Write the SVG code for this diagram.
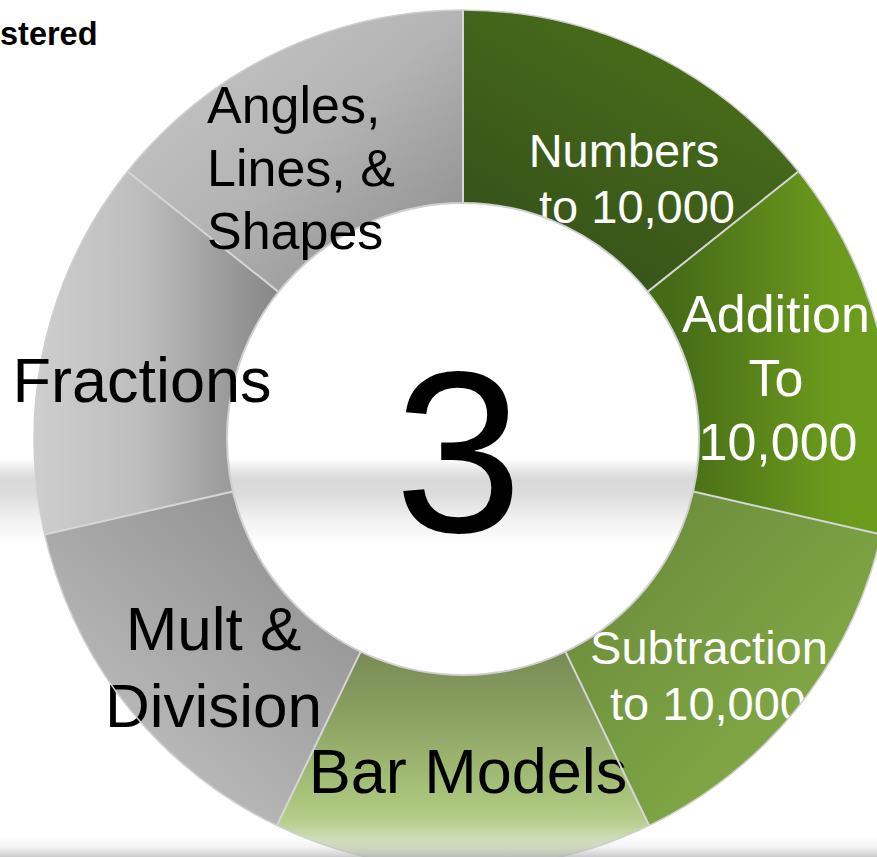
<svg xmlns="http://www.w3.org/2000/svg" width="877" height="857" viewBox="0 0 877 857">
<defs>
<style>
text{font-family:"Liberation Sans",Arial,sans-serif;}
.w{fill:#ffffff;text-anchor:middle;}
.b{fill:#000000;text-anchor:middle;}
.div{stroke:#d6d6d6;stroke-width:2;fill:none;}
</style>
<linearGradient id="band" x1="0" y1="440" x2="0" y2="560" gradientUnits="userSpaceOnUse">
<stop offset="0" stop-color="#ffffff"/>
<stop offset="0.15" stop-color="#ffffff"/>
<stop offset="0.32" stop-color="#d9d9d9"/>
<stop offset="0.45" stop-color="#dcdcdc"/>
<stop offset="0.65" stop-color="#f0f0f0"/>
<stop offset="0.88" stop-color="#ffffff"/>
</linearGradient>
<linearGradient id="bottom" x1="0" y1="836" x2="0" y2="857" gradientUnits="userSpaceOnUse">
<stop offset="0" stop-color="#b0b0b0" stop-opacity="0"/>
<stop offset="0.5" stop-color="#b8b8b8" stop-opacity="0.15"/>
<stop offset="1" stop-color="#a8a8a8" stop-opacity="0.6"/>
</linearGradient>
<linearGradient id="g1" x1="1" y1="0" x2="0.3" y2="1">
<stop offset="0" stop-color="#4e7519"/>
<stop offset="1" stop-color="#35511a"/>
</linearGradient>
<linearGradient id="g2" x1="0" y1="0" x2="1" y2="0">
<stop offset="0.1" stop-color="#456b17"/>
<stop offset="0.75" stop-color="#6a9a1c"/>
<stop offset="1" stop-color="#6c9e1c"/>
</linearGradient>
<linearGradient id="g3" x1="0" y1="0" x2="1" y2="1">
<stop offset="0" stop-color="#67863a"/>
<stop offset="1" stop-color="#8ab448"/>
</linearGradient>
<linearGradient id="g4" x1="0" y1="650" x2="0" y2="857" gradientUnits="userSpaceOnUse">
<stop offset="0" stop-color="#778a55"/>
<stop offset="0.35" stop-color="#8da463"/>
<stop offset="0.72" stop-color="#a9c57b"/>
<stop offset="0.82" stop-color="#b4cd8b"/>
<stop offset="0.92" stop-color="#d1dfba"/>
<stop offset="1" stop-color="#d6e0c6"/>
</linearGradient>
<linearGradient id="g5" x1="1" y1="0" x2="0.2" y2="1">
<stop offset="0" stop-color="#888888"/>
<stop offset="1" stop-color="#c4c4c4"/>
</linearGradient>
<linearGradient id="g6" x1="0" y1="0" x2="1" y2="0">
<stop offset="0" stop-color="#cecece"/>
<stop offset="0.45" stop-color="#bdbdbd"/>
<stop offset="1" stop-color="#868686"/>
</linearGradient>
<linearGradient id="g7" x1="0" y1="0" x2="1" y2="1">
<stop offset="0" stop-color="#cacaca"/>
<stop offset="0.5" stop-color="#b4b4b4"/>
<stop offset="1" stop-color="#888888"/>
</linearGradient>
</defs>
<rect x="0" y="0" width="877" height="857" fill="#ffffff"/>
<rect x="0" y="440" width="877" height="120" fill="url(#band)"/>
<text x="0" y="45" font-size="32.5" font-weight="bold" fill="#000000">stered</text>

<g id="seg-numbers">
<path d="M463,10 A429,429 0 0 1 798.41,171.52 L647.51,291.86 A236,236 0 0 0 463,203 Z" fill="url(#g1)"/>
<text class="w" font-size="47" x="624" y="167">Numbers</text>
<text class="w" font-size="47" x="637" y="223">to 10,000</text>
</g>
<g id="seg-addition">
<path d="M798.41,171.52 A429,429 0 0 1 881.24,534.46 L693.08,491.51 A236,236 0 0 0 647.51,291.86 Z" fill="url(#g2)"/>
<text class="w" font-size="52" x="776" y="332">Addition</text>
<text class="w" font-size="52" x="776" y="396">To</text>
<text class="w" font-size="52" x="778" y="460">10,000</text>
</g>
<g id="seg-subtraction">
<path d="M881.24,534.46 A429,429 0 0 1 649.13,825.52 L565.40,651.63 A236,236 0 0 0 693.08,491.51 Z" fill="url(#g3)"/>
<text class="w" font-size="47" x="709" y="664">Subtraction</text>
<text class="w" font-size="47" x="708" y="720">to 10,000</text>
</g>
<g id="seg-bar-models">
<path d="M649.13,825.52 A429,429 0 0 1 276.87,825.52 L360.60,651.63 A236,236 0 0 0 565.40,651.63 Z" fill="url(#g4)"/>
<text class="b" font-size="63" x="468" y="793">Bar Models</text>
</g>
<g id="seg-mult-division">
<path d="M276.87,825.52 A429,429 0 0 1 44.76,534.46 L232.92,491.51 A236,236 0 0 0 360.60,651.63 Z" fill="url(#g5)"/>
<text class="b" font-size="62" x="213.5" y="650">Mult &amp;</text>
<text class="b" font-size="62" x="213.5" y="727">Division</text>
</g>
<g id="seg-fractions">
<path d="M44.76,534.46 A429,429 0 0 1 127.59,171.52 L278.49,291.86 A236,236 0 0 0 232.92,491.51 Z" fill="url(#g6)"/>
</g>
<g id="seg-angles">
<path d="M127.59,171.52 A429,429 0 0 1 463,10 L463,203 A236,236 0 0 0 278.49,291.86 Z" fill="url(#g7)"/>
</g>

<g id="connectors">
<line class="div" x1="463" y1="10" x2="463" y2="203"/>
<line class="div" x1="798.41" y1="171.52" x2="647.51" y2="291.86"/>
<line class="div" x1="881.24" y1="534.46" x2="693.08" y2="491.51"/>
<line class="div" x1="649.13" y1="825.52" x2="565.40" y2="651.63"/>
<line class="div" x1="276.87" y1="825.52" x2="360.60" y2="651.63"/>
<line class="div" x1="44.76" y1="534.46" x2="232.92" y2="491.51"/>
<line class="div" x1="127.59" y1="171.52" x2="278.49" y2="291.86"/>
<circle cx="463" cy="439" r="429" fill="none" stroke="#cfcfcf" stroke-width="1.5"/>
<circle cx="463" cy="439" r="236" fill="none" stroke="#d0d0d0" stroke-width="2"/>
</g>

<g id="labels-top">
<text class="b" font-size="63" x="142" y="402">Fractions</text>
<text font-size="52" x="207" y="123" fill="#000000">Angles,</text>
<text font-size="52" x="207" y="186" fill="#000000">Lines, &amp;</text>
<text font-size="52" x="207" y="249" fill="#000000">Shapes</text>
</g>
<g id="center">
<text class="b" font-size="230" x="458.5" y="532">3</text>
</g>
<rect x="0" y="836" width="877" height="21" fill="url(#bottom)"/>
</svg>
